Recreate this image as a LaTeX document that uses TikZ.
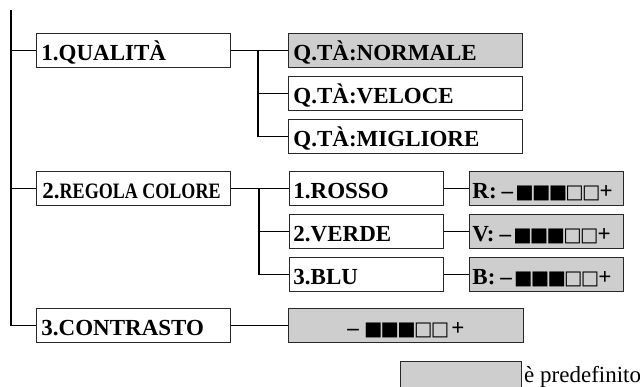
\documentclass[tikz,border=0pt]{standalone}
\usepackage{fontspec}
\setmainfont{Liberation Serif}
\newfontfamily\symf{DejaVu Sans}
\definecolor{fillg}{RGB}{206,206,206}
\definecolor{edge}{RGB}{40,40,40}
\newcommand\blksq{\makebox[16.7pt]{\symf\fontsize{19.5}{19.5}\selectfont ■}}
\newcommand\whtsq{\makebox[16.7pt]{\symf\fontsize{19.5}{19.5}\selectfont □}}
\newcommand\barlevel{–\hspace{3pt}\blksq\blksq\blksq\whtsq\whtsq+}
\tikzset{
  mbox/.style={draw=edge, line width=0.9pt, inner sep=0pt, minimum height=34pt,
    text height=20pt, text depth=0pt, anchor=north west,
    font=\fontsize{23}{23}\selectfont\bfseries},
  gbox/.style={mbox, fill=fillg},
  conn/.style={line width=1.6pt, black},
}
\begin{document}
\begin{tikzpicture}[x=1pt,y=-1pt]
\useasboundingbox (0,0) rectangle (640,386);
\clip (0,0) rectangle (640,386);
% level 1
\node[mbox] (qual) at (36,33) {\makebox[194pt][l]{\hspace{5pt}1.QUALITÀ}};
\node[mbox] (reg) at (36,171) {\makebox[194pt][l]{\hspace{6pt}2.\scalebox{0.82}[1]{\fontsize{22}{22}\selectfont REGOLA COLORE}}};
\node[mbox] (contr) at (36,308) {\makebox[194pt][l]{\hspace{5pt}3.CONTRASTO}};
% quality options
\node[gbox] (norm) at (288,33) {\makebox[234pt][l]{\hspace{5pt}Q.TÀ:NORMALE}};
\node[mbox] (velo) at (288,76) {\makebox[234pt][l]{\hspace{5pt}Q.TÀ:VELOCE}};
\node[mbox] (migl) at (288,119) {\makebox[234pt][l]{\hspace{5pt}Q.TÀ:MIGLIORE}};
% colours
\node[mbox] (ros) at (289,171) {\makebox[154pt][l]{\hspace{4pt}1.ROSSO}};
\node[mbox] (ver) at (289,214) {\makebox[154pt][l]{\hspace{4pt}2.VERDE}};
\node[mbox] (blu) at (289,257) {\makebox[154pt][l]{\hspace{4pt}3.BLU}};
\node[gbox] (rr) at (469,171) {\makebox[154pt][l]{\hspace{3pt}R:\hspace{5pt}\barlevel}};
\node[gbox] (vv) at (469,214) {\makebox[154pt][l]{\hspace{3pt}V:\hspace{5pt}\barlevel}};
\node[gbox] (bb) at (469,257) {\makebox[154pt][l]{\hspace{3pt}B:\hspace{5pt}\barlevel}};
% contrast
\node[gbox] (cg) at (288,308) {\makebox[235pt][c]{–\hspace{6pt}\blksq\blksq\blksq\whtsq\whtsq\hspace{3pt}+}};
% legend
\node[gbox, minimum width=121pt] (leg) at (400,361) {};
\node[anchor=base west, inner sep=0pt, font=\fontsize{23}{23}\selectfont] (legt) at (524,382) {è predefinito};
% connectors
\coordinate (top) at (11,10);
\draw[conn] (top) |- (contr.west);
\draw[conn] (top |- qual.west) -- (qual.west);
\draw[conn] (top |- reg.west) -- (reg.west);
\draw[conn] (qual.east) -- (norm.west);
\coordinate (b1) at (258,50);
\draw[conn] (b1) |- (velo.west);
\draw[conn] (b1) |- (migl.west);
\draw[conn] (reg.east) -- (ros.west);
\coordinate (b2) at (259,188);
\draw[conn] (b2) |- (ver.west);
\draw[conn] (b2) |- (blu.west);
\draw[conn] (ros.east) -- (rr.west);
\draw[conn] (ver.east) -- (vv.west);
\draw[conn] (blu.east) -- (bb.west);
\draw[conn] (contr.east) -- (cg.west);
\end{tikzpicture}
\end{document}
